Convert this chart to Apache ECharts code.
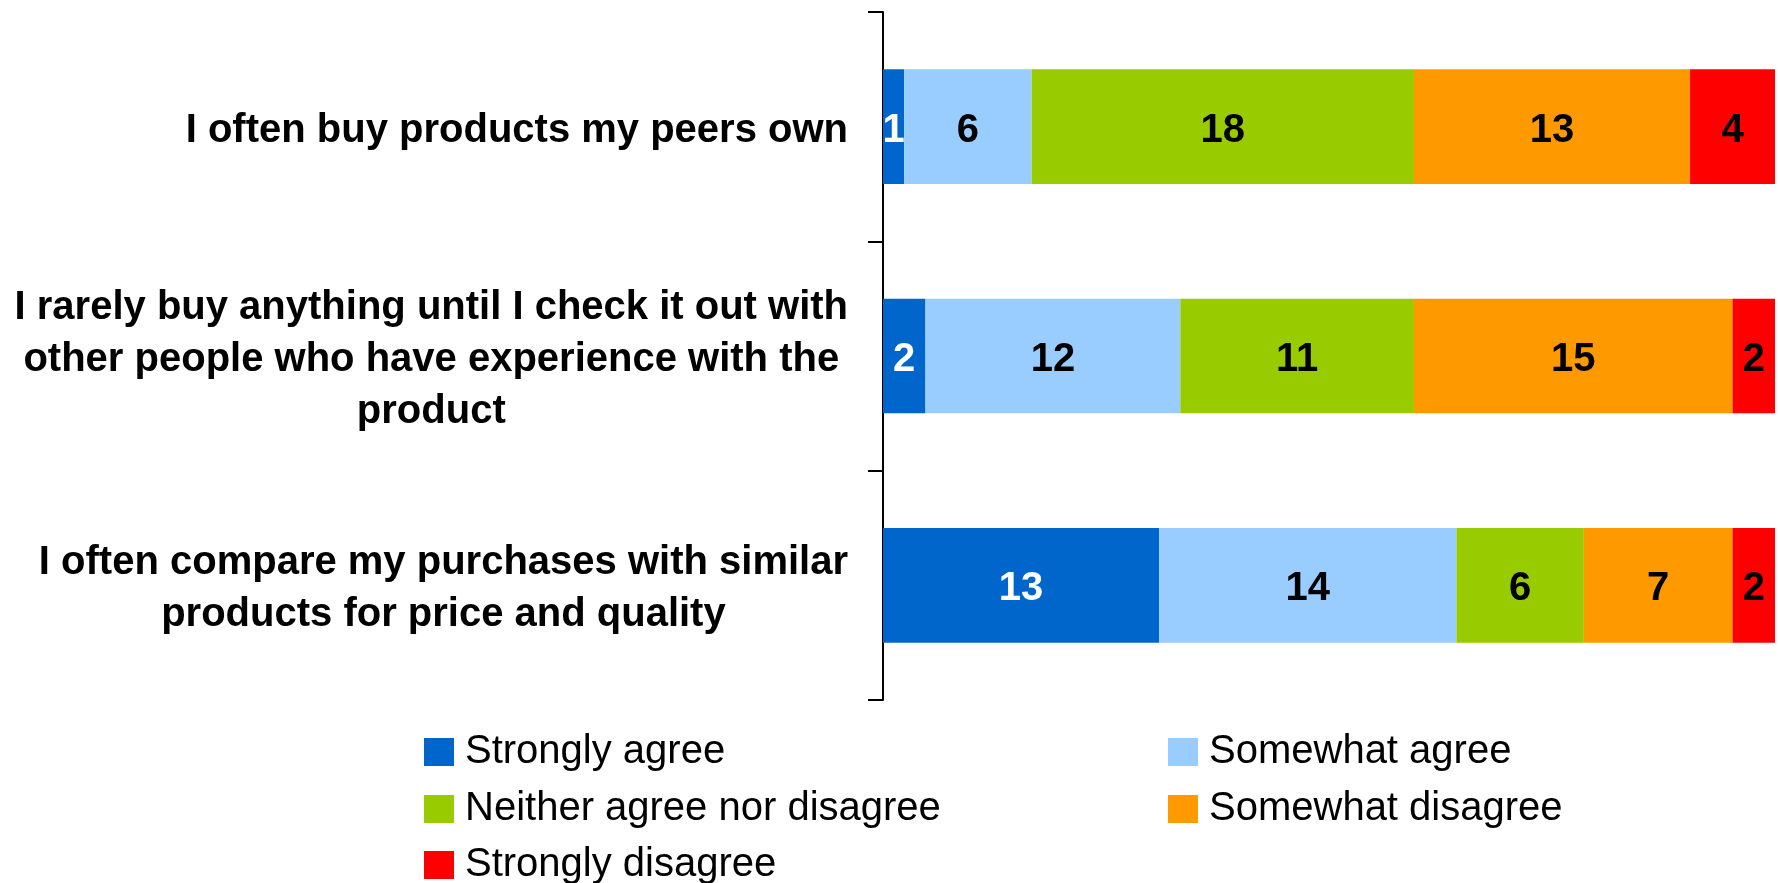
<!DOCTYPE html>
<html>
<head>
<meta charset="utf-8">
<script src="https://cdn.jsdelivr.net/npm/echarts@6/dist/echarts.min.js"></script>
<style>
  html, body { margin: 0; padding: 0; background: #fff; }
  #chart { width: 1778px; height: 883px; }
</style>
</head>
<body>
<div id="chart"></div>
<script>
// Survey statements (top to bottom) and response counts per answer
const categories = [
  'I often buy products my peers own',
  'I rarely buy anything until I check it out with\nother people who have experience with the\nproduct',
  'I often compare my purchases with similar\nproducts for price and quality'
];
const seriesNames = ['Strongly agree', 'Somewhat agree', 'Neither agree nor disagree', 'Somewhat disagree', 'Strongly disagree'];
const stronglyAgree = [1, 2, 13];
const somewhatAgree = [6, 12, 14];
const neither = [18, 11, 6];
const somewhatDisagree = [13, 15, 7];
const stronglyDisagree = [4, 2, 2];
const totalResponses = 42;

const colors = ['#0066CC', '#99CCFF', '#99CC00', '#FF9900', '#FF0000'];
const labelColors = ['#FFFFFF', '#000000', '#000000', '#000000', '#000000'];
const values = [stronglyAgree, somewhatAgree, neither, somewhatDisagree, stronglyDisagree];
const FONT = '"Liberation Sans", Arial, Helvetica, sans-serif';

const chart = echarts.init(document.getElementById('chart'), null, { renderer: 'canvas' });

// Legend keys laid out in two columns, three rows (one legend per key)
const legendCols = [424, 1168];
const legendRows = [732, 789, 845];
function legendItem(i) {
  return {
    orient: 'vertical',
    left: legendCols[i % 2],
    top: legendRows[Math.floor(i / 2)],
    padding: 0,
    itemWidth: 30,
    itemHeight: 28,
    icon: 'rect',
    data: [seriesNames[i]],
    textStyle: { fontFamily: FONT, fontSize: 40, color: '#000', lineHeight: 40, padding: [0, 0, 0, 6] }
  };
}

chart.setOption({
  backgroundColor: '#ffffff',
  animation: false,
  textStyle: { fontFamily: FONT },
  grid: { left: 883, right: 3, top: 12, bottom: 183, containLabel: false, outerBoundsMode: 'none' },
  xAxis: { type: 'value', min: 0, max: totalResponses, show: false },
  yAxis: {
    type: 'category',
    data: categories,
    inverse: true,
    axisLine: { show: true, lineStyle: { color: '#000', width: 2 } },
    axisTick: { show: true, length: 15, lineStyle: { color: '#000', width: 2 } },
    splitLine: { show: false },
    axisLabel: {
      interval: 0,
      margin: 35,
      padding: [8, 0, 0, 0],
      formatter: function (v) {
        return v.split('\n').map(function (line) { return '{c|' + line + '}'; }).join('\n');
      },
      rich: {
        c: {
          align: 'center',
          fontFamily: FONT,
          fontSize: 40,
          fontWeight: 'bold',
          color: '#000',
          lineHeight: 52
        }
      }
    }
  },
  legend: seriesNames.map(function (n, i) { return legendItem(i); }),
  series: seriesNames.map(function (name, i) {
    return {
      name: name,
      type: 'bar',
      stack: 'total',
      barWidth: '50%',
      data: values[i],
      itemStyle: { color: colors[i] },
      label: {
        show: true,
        position: 'inside',
        offset: [0, 4],
        color: labelColors[i],
        fontFamily: FONT,
        fontSize: 40,
        fontWeight: 'bold'
      }
    };
  })
});
</script>
</body>
</html>
